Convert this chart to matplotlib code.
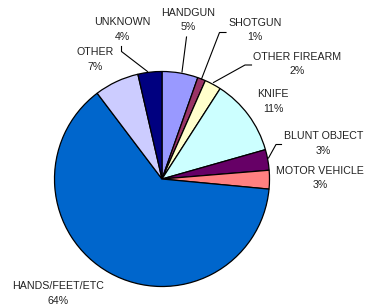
import matplotlib.pyplot as plt

plt.rcParams['font.family'] = ['Liberation Sans', 'DejaVu Sans']

categories = ['HANDGUN', 'SHOTGUN', 'OTHER FIREARM', 'KNIFE', 'BLUNT OBJECT',
              'MOTOR VEHICLE', 'HANDS/FEET/ETC', 'OTHER', 'UNKNOWN']
shares = [5.4, 1.2, 2.5, 11.5, 3.1, 2.8, 63.2, 6.7, 3.6]
pct_labels = ['5%', '1%', '2%', '11%', '3%', '3%', '64%', '7%', '4%']
colors = ['#9999FF', '#993366', '#FFFFCC', '#CCFFFF', '#660066',
          '#FF8080', '#0066CC', '#CCCCFF', '#000080']

# label text position (pixels, from top-left) of the name line
label_pos = {
    'HANDGUN': (188, 13), 'SHOTGUN': (255, 23), 'OTHER FIREARM': (297, 57),
    'KNIFE': (273, 94), 'BLUNT OBJECT': (323.5, 136), 'MOTOR VEHICLE': (320, 171),
    'HANDS/FEET/ETC': (58, 286), 'OTHER': (95, 52), 'UNKNOWN': (122, 22),
}
# leader lines (pixels)
leaders = {
    'HANDGUN': [(186.5, 37), (182, 72)],
    'SHOTGUN': [(226, 32.5), (219.5, 32.5), (201.5, 79)],
    'OTHER FIREARM': [(251.5, 65), (245, 65), (213.5, 82.5)],
    'BLUNT OBJECT': [(281.5, 144.5), (276, 144.5), (268.5, 158)],
    'UNKNOWN': [(121.5, 46.5), (121.5, 51.5), (147.5, 71.5)],
}

W, H = 365, 308
fig = plt.figure(figsize=(W / 100, H / 100), dpi=100)
ax = fig.add_axes([0, 0, 1, 1])

ax.pie(shares, colors=colors, startangle=90, counterclock=False,
       center=(162, H - 179), radius=107.5,
       wedgeprops=dict(edgecolor='black', linewidth=0.9))

for name, pct in zip(categories, pct_labels):
    x, y = label_pos[name]
    ax.text(x, H - y, name, ha='center', va='center', fontsize=7.7, color='#222222')
    ax.text(x, H - y - 14.5, pct, ha='center', va='center', fontsize=7.7, color='#222222')

for name, pts in leaders.items():
    ax.plot([p[0] for p in pts], [H - p[1] for p in pts], color='black', lw=0.8)

ax.set_xlim(0, W)
ax.set_ylim(0, H)
ax.set_aspect('equal')
ax.axis('off')

fig.savefig('out.png', dpi=100)
